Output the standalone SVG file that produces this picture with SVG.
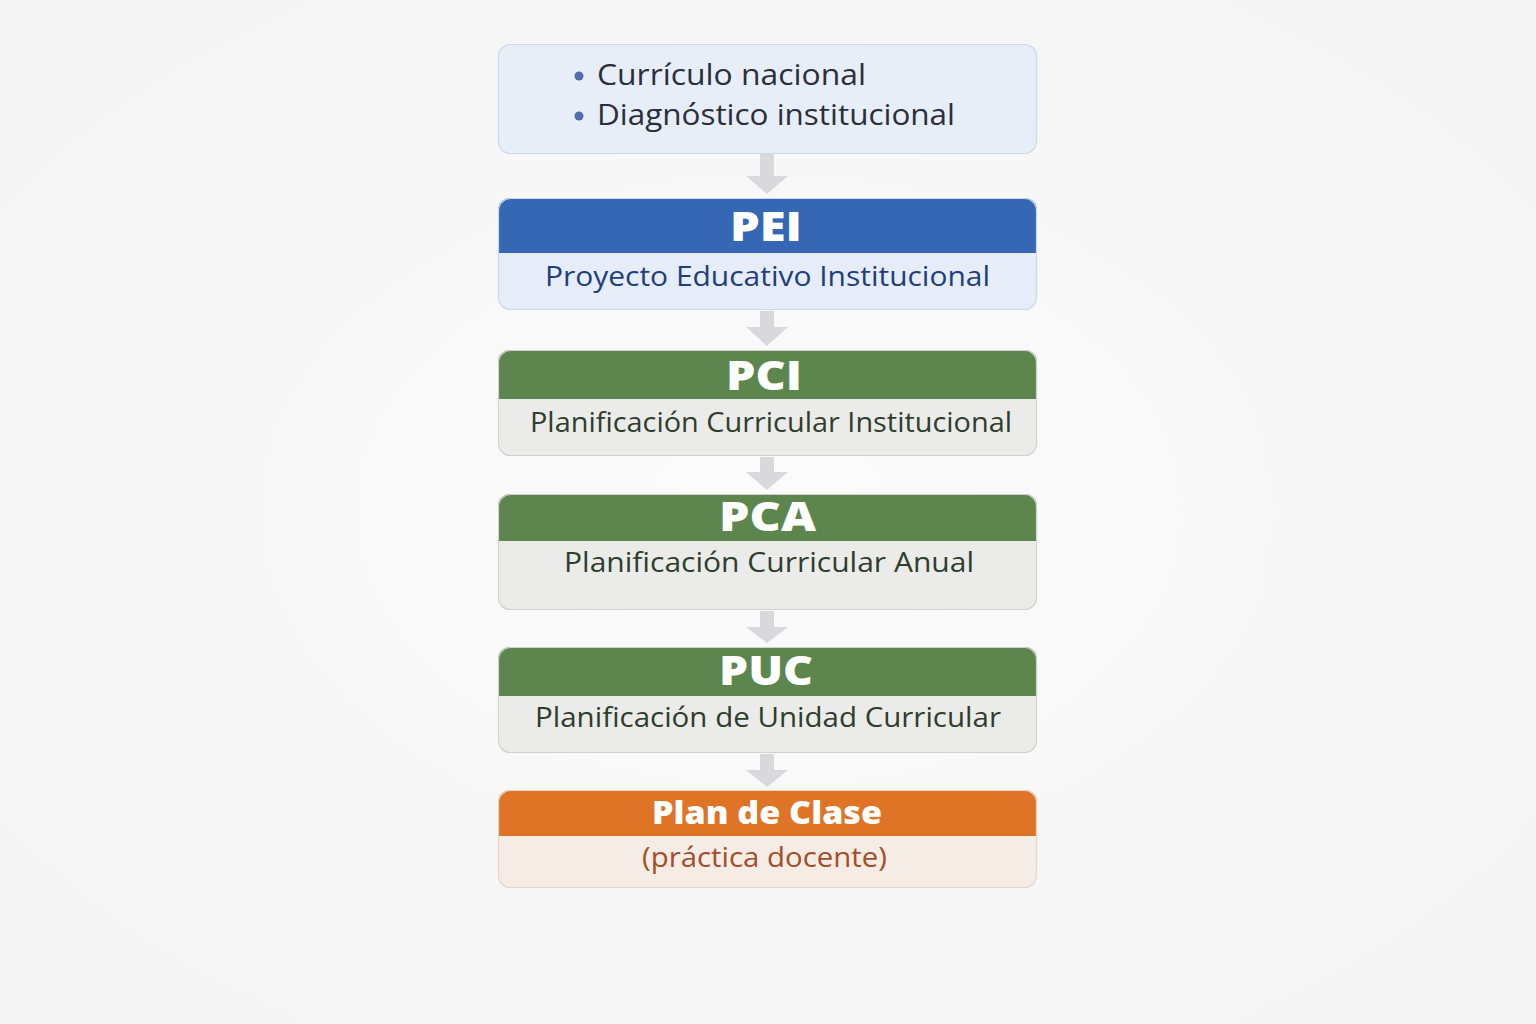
<svg xmlns="http://www.w3.org/2000/svg" width="1536" height="1024" viewBox="0 0 1536 1024">
<defs>
<style>
.t{font-family:"Open Sans","Noto Sans","DejaVu Sans",sans-serif;text-anchor:middle}
.h{font-weight:800;fill:#ffffff;font-size:40px}
.s{font-size:27px}
.arr{fill:#d9d9dd}
.bl{stroke:#cfd8e8;stroke-width:1.2}
.gr{stroke:#cfd2cf;stroke-width:1.2}
.or{stroke:#e6d6cc;stroke-width:1.2}
</style>
<radialGradient id="bg" cx="0.5" cy="0.5" r="0.6">
<stop offset="0" stop-color="#fbfbfc"/>
<stop offset="1" stop-color="#f5f5f6"/>
</radialGradient>
<clipPath id="c1"><rect x="498" y="198" width="539" height="112" rx="12"/></clipPath>
<clipPath id="c2"><rect x="498" y="350" width="539" height="106" rx="12"/></clipPath>
<clipPath id="c3"><rect x="498" y="494" width="539" height="116" rx="12"/></clipPath>
<clipPath id="c4"><rect x="498" y="647" width="539" height="106" rx="12"/></clipPath>
<clipPath id="c5"><rect x="498" y="790" width="539" height="98" rx="12"/></clipPath>
</defs>
<rect width="1536" height="1024" fill="url(#bg)"/>

<g id="connectors">
<polygon class="arr" points="760,154 774,154 774,176 788,176 767,194 746,176 760,176"/>
<polygon class="arr" points="760,311 774,311 774,327 788,327 767,346 746,327 760,327"/>
<polygon class="arr" points="760,457 774,457 774,472 788,472 767,490 746,472 760,472"/>
<polygon class="arr" points="760,611 774,611 774,627 788,627 767,643 746,627 760,627"/>
<polygon class="arr" points="760,754 774,754 774,770 788,770 767,787 746,770 760,770"/>
</g>

<g id="inputs">
<rect class="bl" x="498.5" y="44.5" width="538" height="109" rx="12" fill="#e8eef8"/>
<circle cx="579" cy="76" r="4.5" fill="#4d6ea8"/>
<circle cx="579" cy="116" r="4.5" fill="#4d6ea8"/>
<text x="597" y="85" font-family="Open Sans, Noto Sans, sans-serif" font-size="29" fill="#2a2f3a" textLength="269" lengthAdjust="spacingAndGlyphs">Currículo nacional</text>
<text x="597" y="125" font-family="Open Sans, Noto Sans, sans-serif" font-size="29" fill="#2a2f3a" textLength="358" lengthAdjust="spacingAndGlyphs">Diagnóstico institucional</text>
</g>

<g id="pei">
<g clip-path="url(#c1)">
<rect x="498" y="198" width="539" height="112" fill="#e6edf8"/>
<rect x="498" y="198" width="539" height="55" fill="#3567b5"/>
</g>
<rect class="bl" x="498.5" y="198.5" width="538" height="111" rx="12" fill="none"/>
<text class="t h" x="766" y="241" textLength="72" lengthAdjust="spacingAndGlyphs">PEI</text>
<text class="t s" x="767.5" y="286" fill="#1f3f7c" textLength="445" lengthAdjust="spacingAndGlyphs">Proyecto Educativo Institucional</text>
</g>

<g id="pci">
<g clip-path="url(#c2)">
<rect x="498" y="350" width="539" height="106" fill="#ebecea"/>
<rect x="498" y="350" width="539" height="49" fill="#5c864d"/>
</g>
<rect class="gr" x="498.5" y="350.5" width="538" height="105" rx="12" fill="none"/>
<text class="t h" x="764" y="390" textLength="76" lengthAdjust="spacingAndGlyphs">PCI</text>
<text class="t s" x="771" y="432" fill="#2f3d2d" textLength="482" lengthAdjust="spacingAndGlyphs">Planificación Curricular Institucional</text>
</g>

<g id="pca">
<g clip-path="url(#c3)">
<rect x="498" y="494" width="539" height="116" fill="#ebecea"/>
<rect x="498" y="494" width="539" height="47" fill="#5c864d"/>
</g>
<rect class="gr" x="498.5" y="494.5" width="538" height="115" rx="12" fill="none"/>
<text class="t h" x="767.5" y="531" textLength="97" lengthAdjust="spacingAndGlyphs">PCA</text>
<text class="t s" x="769" y="572" fill="#2f3d2d" textLength="410" lengthAdjust="spacingAndGlyphs">Planificación Curricular Anual</text>
</g>

<g id="puc">
<g clip-path="url(#c4)">
<rect x="498" y="647" width="539" height="106" fill="#ebecea"/>
<rect x="498" y="647" width="539" height="49" fill="#5c864d"/>
</g>
<rect class="gr" x="498.5" y="647.5" width="538" height="105" rx="12" fill="none"/>
<text class="t h" x="766" y="685" textLength="94" lengthAdjust="spacingAndGlyphs">PUC</text>
<text class="t s" x="768" y="727" fill="#2f3d2d" textLength="466" lengthAdjust="spacingAndGlyphs">Planificación de Unidad Curricular</text>
</g>

<g id="plan-clase">
<g clip-path="url(#c5)">
<rect x="498" y="790" width="539" height="98" fill="#f6ece6"/>
<rect x="498" y="790" width="539" height="46" fill="#e07426"/>
</g>
<rect class="or" x="498.5" y="790.5" width="538" height="97" rx="12" fill="none"/>
<text class="t" x="767" y="824" font-weight="800" font-size="32" fill="#ffffff" textLength="230" lengthAdjust="spacingAndGlyphs">Plan de Clase</text>
<text class="t s" x="764.5" y="867" fill="#a24f29" textLength="245" lengthAdjust="spacingAndGlyphs">(práctica docente)</text>
</g>
</svg>
